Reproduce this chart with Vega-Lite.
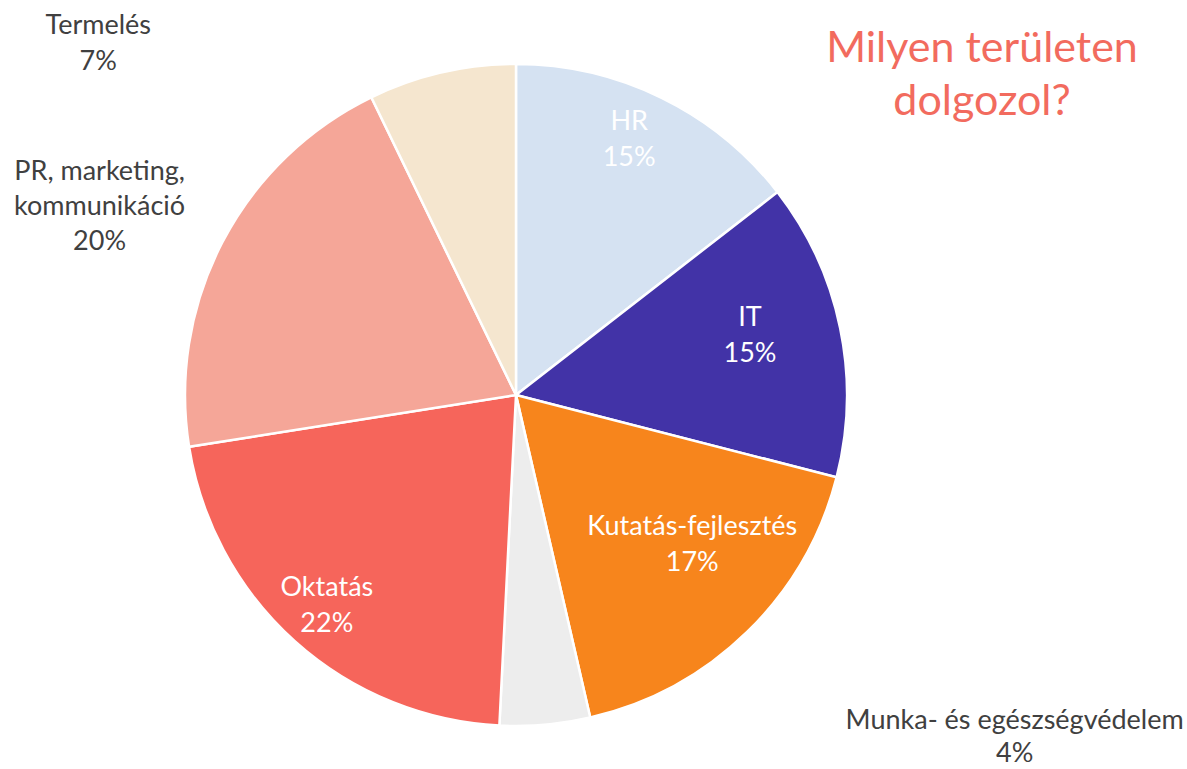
{
  "$schema": "https://vega.github.io/schema/vega-lite/v6.json",
  "autosize": {"type": "none"},
  "width": 1032,
  "height": 748,
  "padding": {"left": 0, "top": 21, "right": 155, "bottom": 0},
  "background": "white",
  "view": {"stroke": null},
  "config": {"font": "Lato", "text": {"font": "Lato"}},
  "title": {
    "text": ["Milyen területen", "dolgozol?"],
    "anchor": "end",
    "frame": "group",
    "align": "center",
    "baseline": "alphabetic",
    "orient": "top",
    "offset": 0,
    "dx": -50,
    "dy": 146,
    "lineHeight": 53,
    "font": "Lato",
    "fontSize": 43,
    "fontWeight": "normal",
    "color": "#F26B5E"
  },
  "data": {
    "values": [
      {"area": "HR", "share": 14.5, "idx": 1},
      {"area": "IT", "share": 14.5, "idx": 2},
      {"area": "Kutatás-fejlesztés", "share": 17.4, "idx": 3},
      {"area": "Munka- és egészségvédelem", "share": 4.4, "idx": 4},
      {"area": "Oktatás", "share": 21.7, "idx": 5},
      {"area": "PR, marketing, kommunikáció", "share": 20.3, "idx": 6},
      {"area": "Termelés", "share": 7.2, "idx": 7}
    ]
  },
  "transform": [
    {"stack": "share", "groupby": [], "sort": [{"field": "idx", "order": "ascending"}], "as": ["s0", "s1"]},
    {"calculate": "(datum.s0 + datum.s1) / 2", "as": "mid"},
    {"calculate": "replace(datum.area, 'marketing, ', 'marketing,\\n') + '\\n' + format(datum.share, '.0f') + '%'", "as": "label"}
  ],
  "layer": [
    {
      "mark": {"type": "arc", "outerRadius": 331, "stroke": "white", "strokeWidth": 2.5},
      "encoding": {
        "theta": {"field": "s0", "type": "quantitative", "stack": null, "scale": {"domain": [0, 100], "zero": true, "nice": false}},
        "theta2": {"field": "s1"},
        "color": {
          "field": "area",
          "type": "nominal",
          "legend": null,
          "scale": {
            "domain": ["HR", "IT", "Kutatás-fejlesztés", "Munka- és egészségvédelem", "Oktatás", "PR, marketing, kommunikáció", "Termelés"],
            "range": ["#D5E2F2", "#4233A7", "#F7851C", "#EDEDED", "#F6655B", "#F5A698", "#F5E6CF"]
          }
        }
      }
    },
    {
      "transform": [{"filter": "datum.area == 'HR'"}],
      "mark": {"type": "text", "fontSize": 27, "lineBreak": "\n", "lineHeight": 36, "align": "center", "baseline": "middle", "color": "white", "dx": -10, "dy": -22},
      "encoding": {
        "theta": {"field": "mid", "type": "quantitative", "stack": null},
        "radius": {"value": 280},
        "text": {"field": "label", "type": "nominal"}
      }
    },
    {
      "transform": [{"filter": "datum.area == 'IT'"}],
      "mark": {"type": "text", "fontSize": 27, "lineBreak": "\n", "lineHeight": 36, "align": "center", "baseline": "middle", "color": "white", "dx": -2, "dy": -28},
      "encoding": {
        "theta": {"field": "mid", "type": "quantitative", "stack": null},
        "radius": {"value": 241},
        "text": {"field": "label", "type": "nominal"}
      }
    },
    {
      "transform": [{"filter": "datum.area == 'Kutatás-fejlesztés'"}],
      "mark": {"type": "text", "fontSize": 27, "lineBreak": "\n", "lineHeight": 36, "align": "center", "baseline": "middle", "color": "white", "dx": 15, "dy": -33},
      "encoding": {
        "theta": {"field": "mid", "type": "quantitative", "stack": null},
        "radius": {"value": 231},
        "text": {"field": "label", "type": "nominal"}
      }
    },
    {
      "transform": [{"filter": "datum.area == 'Oktatás'"}],
      "mark": {"type": "text", "fontSize": 27, "lineBreak": "\n", "lineHeight": 36, "align": "center", "baseline": "middle", "color": "white", "dx": 0, "dy": -18},
      "encoding": {
        "theta": {"field": "mid", "type": "quantitative", "stack": null},
        "radius": {"value": 283},
        "text": {"field": "label", "type": "nominal"}
      }
    },
    {
      "transform": [{"filter": "datum.area == 'Termelés'"}],
      "mark": {"type": "text", "fontSize": 27, "lineBreak": "\n", "lineHeight": 36, "align": "center", "baseline": "middle", "color": "#404040", "dx": -337, "dy": -18},
      "encoding": {
        "theta": {"field": "mid", "type": "quantitative", "stack": null},
        "radius": {"value": 360},
        "text": {"field": "label", "type": "nominal"}
      }
    },
    {
      "transform": [{"filter": "datum.area == 'PR, marketing, kommunikáció'"}],
      "mark": {"type": "text", "fontSize": 27, "lineBreak": "\n", "lineHeight": 35, "align": "center", "baseline": "middle", "color": "#404040", "dx": -44, "dy": -29},
      "encoding": {
        "theta": {"field": "mid", "type": "quantitative", "stack": null},
        "radius": {"value": 420},
        "text": {"field": "label", "type": "nominal"}
      }
    },
    {
      "transform": [{"filter": "datum.area == 'Munka- és egészségvédelem'"}],
      "mark": {"type": "text", "fontSize": 27, "lineBreak": "\n", "lineHeight": 33, "align": "center", "baseline": "middle", "color": "#404040", "dx": 467, "dy": -33},
      "encoding": {
        "theta": {"field": "mid", "type": "quantitative", "stack": null},
        "radius": {"value": 360},
        "text": {"field": "label", "type": "nominal"}
      }
    }
  ]
}
